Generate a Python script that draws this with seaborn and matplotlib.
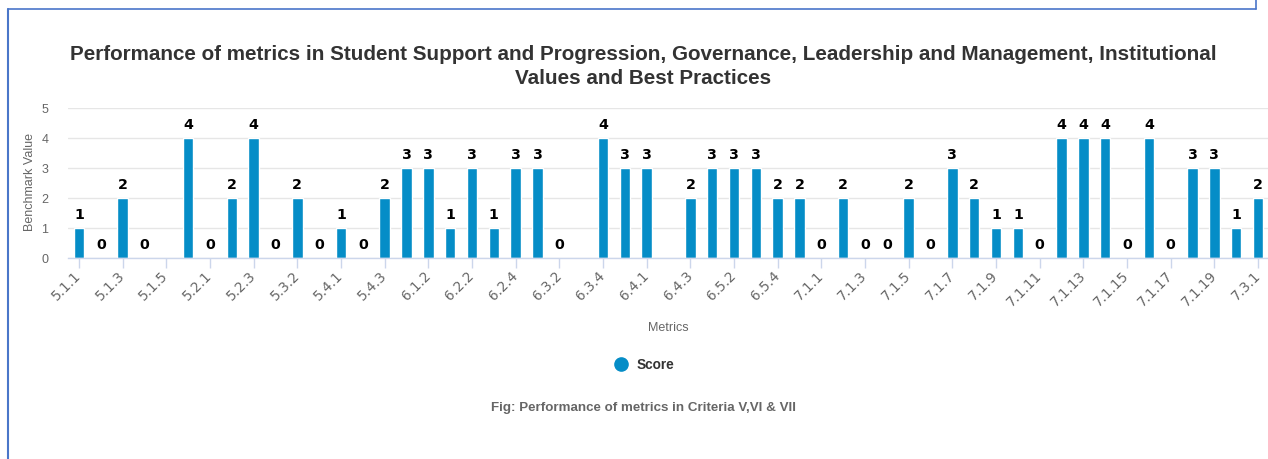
import numpy as np
import pandas as pd
import matplotlib
matplotlib.use("Agg")
import matplotlib.pyplot as plt
from matplotlib.lines import Line2D
import seaborn as sns

categories = [
    "5.1.1", "5.1.2", "5.1.3", "5.1.4", "5.1.5", "5.1.6", "5.2.1", "5.2.2", "5.2.3",
    "5.3.1", "5.3.2", "5.3.3", "5.4.1", "5.4.2", "5.4.3",
    "6.1.1", "6.1.2", "6.2.1", "6.2.2", "6.2.3", "6.2.4", "6.3.1", "6.3.2", "6.3.3",
    "6.3.4", "6.3.5", "6.4.1", "6.4.2", "6.4.3", "6.5.1", "6.5.2", "6.5.3", "6.5.4", "6.5.5",
    "7.1.1", "7.1.2", "7.1.3", "7.1.4", "7.1.5", "7.1.6", "7.1.7", "7.1.8", "7.1.9", "7.1.10",
    "7.1.11", "7.1.12", "7.1.13", "7.1.14", "7.1.15", "7.1.16", "7.1.17", "7.1.18", "7.1.19",
    "7.2.1", "7.3.1",
]
scores = [
    1, 0, 2, 0, np.nan, 4, 0, 2, 4,
    0, 2, 0, 1, 0, 2,
    3, 3, 1, 3, 1, 3, 3, 0, np.nan,
    4, 3, 3, np.nan, 2, 3, 3, 3, 2, 2,
    0, 2, 0, 0, 2, 0, 3, 2, 1, 1,
    0, 4, 4, 4, 0, 4, 0, 3, 3,
    1, 2,
]
series_name = "Score"
title_lines = [
    "Performance of metrics in Student Support and Progression, Governance, Leadership and Management, Institutional",
    "Values and Best Practices",
]
x_label = "Metrics"
y_label = "Benchmark Value"
caption = "Fig: Performance of metrics in Criteria V,VI & VII"
y_ticks = [0, 1, 2, 3, 4, 5]

BAR = "#058DC7"
W, H = 1268, 460

sns.set_theme(style="white")
plt.rcParams["font.family"] = ["Liberation Sans", "DejaVu Sans"]

df = pd.DataFrame({"metric": categories, "score": scores})

fig = plt.figure(figsize=(W / 100, H / 100), dpi=100)
ax = fig.add_axes([68 / W, 1 - 259 / H, (1269 - 68) / W, 150 / H])

sns.barplot(data=df, x="metric", y="score", order=categories, color=BAR,
            width=0.48, edgecolor="white", linewidth=1, saturation=1, ax=ax, zorder=3)

ax.set_xlim(-0.5, len(categories) - 0.5)
ax.set_ylim(0, 5)
ax.set_yticks(y_ticks)
ax.set_yticklabels([str(t) for t in y_ticks], color="#666666", fontsize=9)
ax.grid(axis="y", color="#e6e6e6", linewidth=1, zorder=0)
ax.grid(axis="x", visible=False)
for s in ["top", "right", "left"]:
    ax.spines[s].set_visible(False)
ax.spines["bottom"].set_color("#ccd6eb")
ax.spines["bottom"].set_linewidth(1)
ax.spines["bottom"].set_zorder(4)

ticks = list(range(0, len(categories), 2))
ax.set_xticks(ticks)
ax.set_xticklabels([categories[i] for i in ticks], rotation=45, ha="right",
                   va="center", rotation_mode="anchor", color="#666666",
                   fontsize=9.8, family="DejaVu Sans")
ax.tick_params(axis="x", length=7.5, color="#ccd6eb", width=1, pad=3, bottom=True)
ax.tick_params(axis="y", length=0, pad=14)
ax.set_xlabel("")
ax.set_ylabel("")

# data labels from the drawn bars
for p in ax.patches:
    h = p.get_height()
    if h is None or np.isnan(h):
        continue
    ax.annotate(f"{int(round(h))}", (p.get_x() + p.get_width() / 2, h),
                xytext=(0, 5), textcoords="offset points", ha="center", va="bottom",
                fontsize=10.3, fontweight="bold", color="black", family="DejaVu Sans",
                zorder=6)

fig.text(668 / W, 1 - 328 / H, x_label, ha="center", va="center", color="#666666", fontsize=9)
fig.text(30 / W, 1 - 182 / H, y_label, ha="center", va="center", rotation=90,
         color="#666666", fontsize=9)

# title (two centred lines)
for line, yc in zip(title_lines, [55, 78]):
    fig.text(643 / W, 1 - yc / H, line, ha="center", va="center", fontsize=14.9,
             fontweight="bold", color="#333333")

# legend
fig.add_artist(Line2D([621 / W], [1 - 365 / H], transform=fig.transFigure, marker="o",
                      markersize=9.5, color=BAR, linestyle="none"))
fig.text(637 / W, 1 - 365 / H, series_name, ha="left", va="center", fontsize=9.8,
         fontweight="bold", color="#333333")

# caption
fig.text(644 / W, 1 - 408 / H, caption, ha="center", va="center", fontsize=9.6,
         fontweight="bold", color="#666666")

# card border
bc = "#4a76c9"
fig.add_artist(Line2D([7.5 / W, 7.5 / W], [0, 1 - 9.5 / H], transform=fig.transFigure, color=bc, lw=1.5))
fig.add_artist(Line2D([7.5 / W, 1256 / W], [1 - 9.5 / H, 1 - 9.5 / H], transform=fig.transFigure, color=bc, lw=1.2))
fig.add_artist(Line2D([1256 / W, 1256 / W], [1 - 9.5 / H, 1], transform=fig.transFigure, color=bc, lw=1.2))

fig.savefig("out.png", dpi=100)
